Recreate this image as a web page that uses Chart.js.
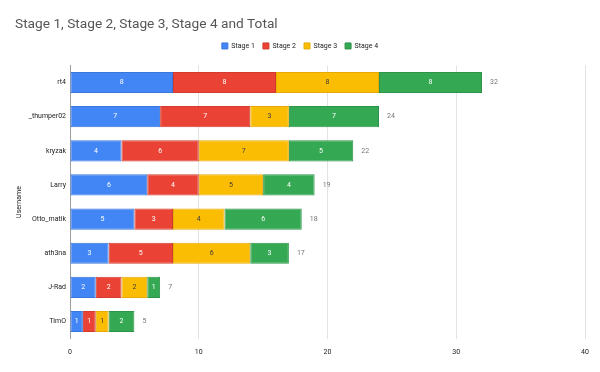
<!DOCTYPE html>
<html>
<head>
<meta charset="utf-8">
<script src="https://cdn.jsdelivr.net/npm/chart.js@4/dist/chart.umd.min.js"></script>
<style>
  html, body { margin: 0; padding: 0; background: #fff; }
  #wrap { width: 600px; height: 372px; }
</style>
</head>
<body>
<div id="wrap"><canvas id="chart"></canvas></div>
<script>
const users = ['rt4', '_thumper02', 'kryzak', 'Larry', 'Otto_matik', 'ath3na', 'J-Rad', 'TimO'];
const stage1 = [8, 7, 4, 6, 5, 3, 2, 1];
const stage2 = [8, 7, 6, 4, 3, 5, 2, 1];
const stage3 = [8, 3, 7, 5, 4, 6, 2, 1];
const stage4 = [8, 7, 5, 4, 6, 3, 1, 2];
const xTicks = [0, 10, 20, 30, 40];

const FONT = 'Roboto, Arial, sans-serif';

// segment values + totals drawn on top of the bars
const barLabels = {
  id: 'barLabels',
  afterDatasetsDraw(chart) {
    const { ctx } = chart;
    ctx.save();
    ctx.font = '7px ' + FONT;
    ctx.textBaseline = 'middle';
    ctx.textAlign = 'center';
    chart.data.datasets.forEach((ds, di) => {
      const meta = chart.getDatasetMeta(di);
      meta.data.forEach((bar, i) => {
        ctx.fillStyle = di === 2 ? '#3c3c3c' : '#ffffff';
        ctx.fillText(String(ds.data[i]), (bar.x + bar.base) / 2, bar.y);
      });
    });
    const xScale = chart.scales.x;
    const last = chart.getDatasetMeta(chart.data.datasets.length - 1);
    ctx.textAlign = 'left';
    ctx.fillStyle = '#757575';
    users.forEach((u, i) => {
      const total = stage1[i] + stage2[i] + stage3[i] + stage4[i];
      ctx.fillText(String(total), xScale.getPixelForValue(total) + 8, last.data[i].y);
    });
    ctx.restore();
  },
};

// legend sits closer to the title, extra room below it
const legendGap = {
  id: 'legendGap',
  beforeInit(chart) {
    const fit = chart.legend.fit;
    chart.legend.fit = function () {
      fit.bind(chart.legend)();
      this.height += 6;
    };
  },
};

const mk = (label, data, color, border) => ({
  label,
  data,
  backgroundColor: color,
  borderColor: border,
  borderWidth: 1,
  borderSkipped: false,
  categoryPercentage: 1,
  barPercentage: 0.62,
});

new Chart(document.getElementById('chart'), {
  type: 'bar',
  data: {
    labels: users,
    datasets: [
      mk('Stage 1', stage1, '#4285F4', '#3a77dc'),
      mk('Stage 2', stage2, '#EA4335', '#d23b2e'),
      mk('Stage 3', stage3, '#FBBC04', '#e5ab04'),
      mk('Stage 4', stage4, '#34A853', '#2d9449'),
    ],
  },
  options: {
    indexAxis: 'y',
    responsive: true,
    maintainAspectRatio: false,
    animation: false,
    layout: { padding: { left: 15, right: 15, top: 4, bottom: 7 } },
    scales: {
      x: {
        stacked: true,
        min: 0,
        max: 40,
        afterBuildTicks: (scale) => {
          scale.ticks = xTicks.map((v) => ({ value: v }));
        },
        grid: { color: '#e3e3e3', drawTicks: false, lineWidth: 1 },
        border: { display: false },
        ticks: { color: '#222', font: { size: 7, family: FONT }, padding: 9 },
      },
      y: {
        stacked: true,
        grid: { display: false, drawTicks: false },
        border: { display: true, color: '#9e9e9e', width: 1 },
        afterFit: (scale) => {
          scale.width = 55;
        },
        ticks: { color: '#222', font: { size: 7, family: FONT }, padding: 4 },
        title: {
          display: true,
          text: 'Username',
          color: '#222',
          font: { size: 7, family: FONT },
          padding: 0,
        },
      },
    },
    plugins: {
      title: {
        display: true,
        text: 'Stage 1, Stage 2, Stage 3, Stage 4 and Total',
        align: 'start',
        color: '#555',
        font: { size: 13.7, family: FONT, weight: 'normal' },
        padding: { top: 12, bottom: 2 },
      },
      legend: {
        position: 'top',
        labels: {
          boxWidth: 6,
          boxHeight: 6,
          padding: 8,
          color: '#222',
          font: { size: 7, family: FONT },
        },
      },
      tooltip: { enabled: false },
    },
  },
  plugins: [barLabels, legendGap],
});
</script>
</body>
</html>
